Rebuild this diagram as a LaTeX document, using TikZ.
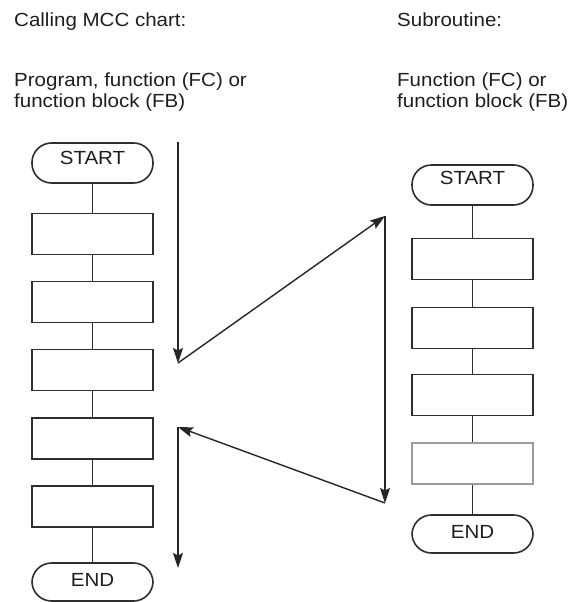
\documentclass[tikz,border=0pt]{standalone}
\usepackage{fontspec}
\setmainfont[FakeStretch=1.08]{Liberation Sans}
\usetikzlibrary{arrows.meta}
\definecolor{linec}{HTML}{2E2E2E}
\definecolor{grayc}{HTML}{9C9C9C}
\definecolor{txtc}{HTML}{1E1E1E}
\begin{document}
\begin{tikzpicture}[x=1pt,y=-1pt,
  box/.style={draw=linec, line width=1.6pt, minimum width=121pt, minimum height=41pt, inner sep=0pt, fill=white},
  term/.style={box, rounded corners=19.5pt, minimum height=40pt, font=\fontsize{19}{22}\selectfont, text=txtc},
  link/.style={draw=linec, line width=1.6pt},
  flow/.style={draw=black!85, line width=1.4pt, -{Stealth[length=15pt,width=10pt,inset=2.5pt]}},
  head/.style={anchor=base west, inner sep=0pt, font=\fontsize{19}{22}\selectfont, text=txtc}]
\useasboundingbox (0,0) rectangle (572,602);

% headings
\node[head] (h1) at (14,27) {Calling MCC chart:};
\node[head] (h2) at (14,86.5) {Program, function (FC) or};
\node[head] (h3) at (14,107) {function block (FB)};
\node[head] (h4) at (397,27) {Subroutine:};
\node[head] (h5) at (397,86.5) {Function (FC) or};
\node[head] (h6) at (397,107) {function block (FB)};

% left chart
\node[term, text depth=10pt] (ls) at (92.5,163) {START};
\node[box] (lb1) at (92.5,234) {};
\node[box] (lb2) at (92.5,302) {};
\node[box] (lb3) at (92.5,370) {};
\node[box] (lb4) at (92.5,438.5) {};
\node[box] (lb5) at (92.5,506.5) {};
\node[term, minimum height=38pt, text depth=5pt] (le) at (92.5,582) {END};
\draw[link] (ls.south) -- (lb1.north);
\draw[link] (lb1.south) -- (lb2.north);
\draw[link] (lb2.south) -- (lb3.north);
\draw[link] (lb3.south) -- (lb4.north);
\draw[link] (lb4.south) -- (lb5.north);
\draw[link] (lb5.south) -- (le.north);

% right chart
\node[term, text depth=14pt] (rs) at (472.5,185) {START};
\node[box] (rb1) at (472.5,259) {};
\node[box] (rb2) at (472.5,328) {};
\node[box] (rb3) at (472.5,395) {};
\node[box, draw=grayc] (rb4) at (472.5,463.5) {};
\node[term, minimum height=38pt, text depth=5pt] (re) at (472.5,534) {END};
\draw[link] (rs.south) -- (rb1.north);
\draw[link] (rb1.south) -- (rb2.north);
\draw[link] (rb2.south) -- (rb3.north);
\draw[link] (rb3.south) -- (rb4.north);
\draw[link] (rb4.south) -- (re.north);

% flow arrows
\coordinate (a0) at (178,142);
\coordinate (a1) at (178,363);
\coordinate (a2) at (385,216);
\coordinate (a3) at (385,503);
\coordinate (a4) at (178,427);
\coordinate (a5) at (178,568);
\draw[flow] (a0) -- (a1);
\draw[flow] (a1) -- (a2);
\draw[flow] (a2) -- (a3);
\draw[flow] (a3) -- (a4);
\draw[flow] (a4) -- (a5);
\end{tikzpicture}
\end{document}
